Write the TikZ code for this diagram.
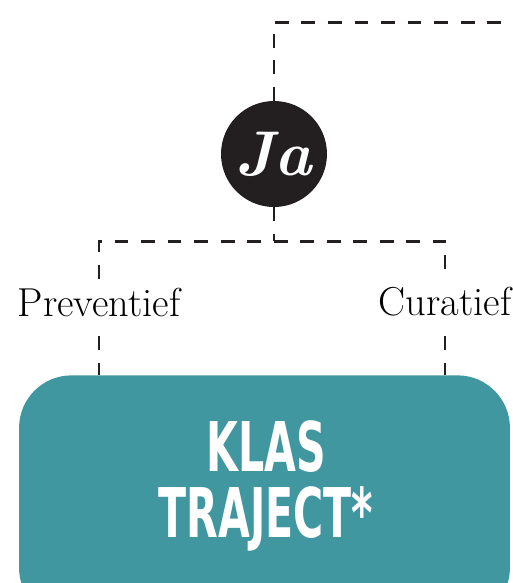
\documentclass[tikz,border=0pt]{standalone}
\usepackage{fontspec}
\newfontfamily\klasfont[FakeStretch=0.6]{DejaVu Sans}
\definecolor{klasteal}{HTML}{4197A0}
\definecolor{jazwart}{HTML}{231F20}
\begin{document}
\begin{tikzpicture}[x=0.02cm,y=-0.02cm,
        stippel/.style={line width=1.7pt,dash pattern=on 7.9pt off 7.2pt,jazwart},
        keuze/.style={font=\fontsize{23}{25}\selectfont,inner xsep=0pt,inner ysep=5pt}]
    \useasboundingbox (0,0) rectangle (512,583);
    \node[circle,fill=jazwart,minimum size=2.12cm,inner sep=0pt,text=white,
        font=\fontsize{36}{36}\selectfont\bfseries\itshape] (ja) at (274,154) {Ja};
    \node[keuze] (prev) at (99,302) {Preventief};
    \node[keuze] (cur) at (445,302) {Curatief};
    \node[rounded corners=1.05cm,fill=klasteal,minimum width=9.82cm,minimum height=4.9cm,
        anchor=north] (klas) at (264.5,375) {};
    \node[text=white,align=center,font=\klasfont\bfseries\fontsize{39}{38}\selectfont]
        (klastekst) at (266,486) {KLAS\\TRAJECT*};
    \coordinate (hoek) at (502,22);
    \coordinate (splits) at (274,241);
    \draw[stippel] (ja.north) -- (ja.north |- hoek) -- (hoek) -- ++(0,-9);
    \draw[stippel] (ja.south) -- (splits);
    \draw[stippel] (prev.north) -- (prev.north |- splits) -- (cur.north |- splits) -- (cur.north);
    \draw[stippel] ([yshift=-6pt]prev.south) -- (prev.south |- klas.north);
    \draw[stippel] ([yshift=-6pt]cur.south) -- (cur.south |- klas.north);
\end{tikzpicture}
\end{document}
